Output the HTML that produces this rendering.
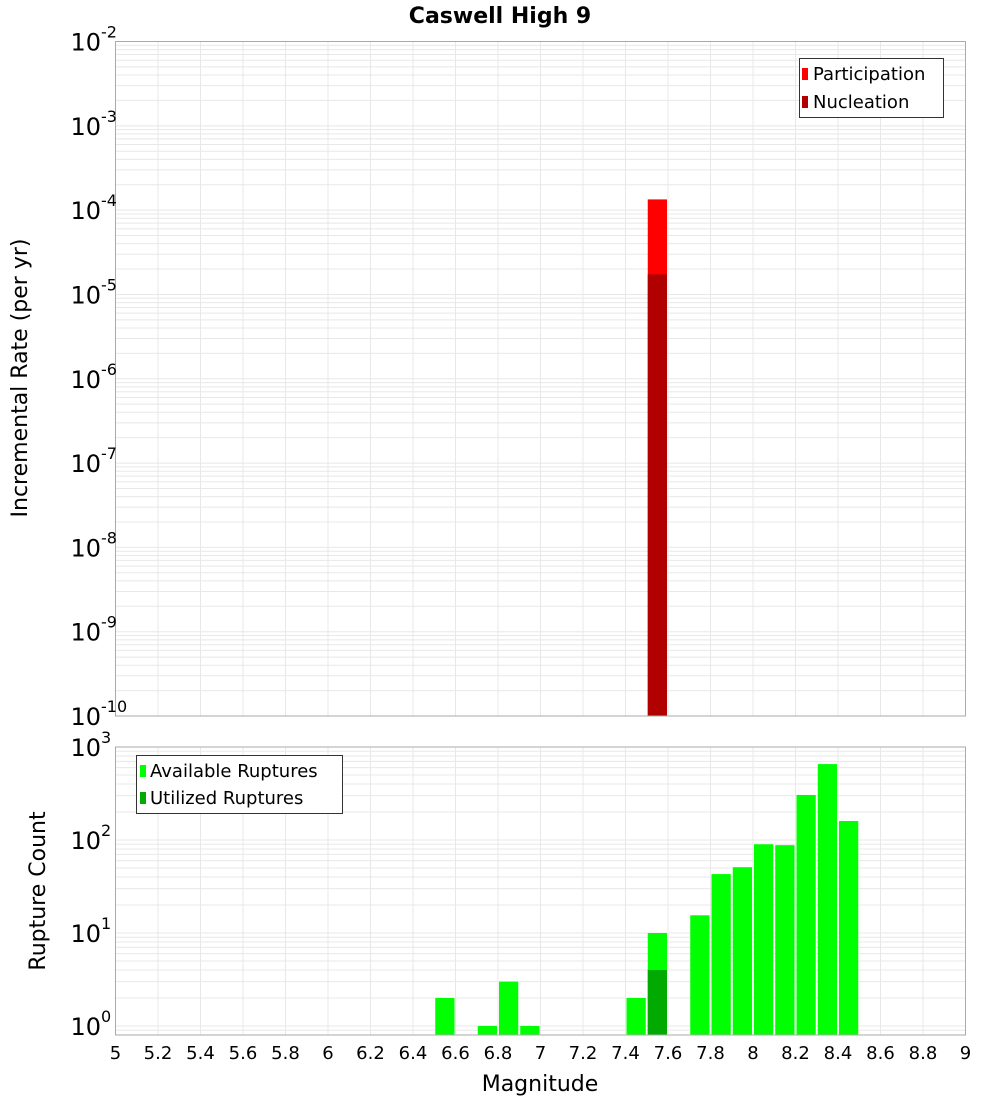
<!DOCTYPE html>
<html><head><meta charset="utf-8"><style>
body{margin:0;background:#fff;}
svg{display:block;font-family:"DejaVu Sans","Liberation Sans",sans-serif;}
</style></head><body>
<svg id="c" width="1000" height="1100" xmlns="http://www.w3.org/2000/svg"></svg>
<script>
const topBinCenters=[7.55];
const participation=[1.34e-4];
const nucleation=[1.73e-5];
const binCenters=[6.55,6.75,6.85,6.95,7.45,7.55,7.75,7.85,7.95,8.05,8.15,8.25,8.35,8.45];
const available=[2,1,3,1,2,10,15.5,43,51,90,88,305,655,160];
const utilizedCenters=[7.55];
const utilized=[4];
const xTicks=["5","5.2","5.4","5.6","5.8","6","6.2","6.4","6.6","6.8","7","7.2","7.4","7.6","7.8","8","8.2","8.4","8.6","8.8","9"];
const topExps=[-2,-3,-4,-5,-6,-7,-8,-9,-10];
const botExps=[3,2,1,0];

const NS="http://www.w3.org/2000/svg";
const svg=document.getElementById('c');
function mk(t,a,p){const e=document.createElementNS(NS,t);for(const k in a)e.setAttribute(k,a[k]);(p||svg).appendChild(e);return e;}
const L=115.5,R=965.5;
const xs=v=>L+(v-5)/4*(R-L);
const T1=41.5,B1=716;
const y1=v=>T1+(-2-Math.log10(v))*(B1-T1)/8;
const T2=747,B2=1035,d2=93;
const y2=v=>T2+(3-Math.log10(v))*d2;

// grids
function grid(top,bot,yf,dmin,dmax){
  for(let d=dmin;d<dmax;d++)for(let m=1;m<10;m++){const y=yf(m*Math.pow(10,d));if(y<top-0.1||y>bot+0.1)continue;
    const g=mk('line',{x1:L,x2:R,y1:y,y2:y,stroke:'#e8e8e8','stroke-width':1});
    
    }
  xTicks.forEach(t=>{const x=xs(+t);const g=mk('line',{x1:x,x2:x,y1:top,y2:bot,stroke:'#e8e8e8','stroke-width':1});
    
    });
}
grid(T1,B1,y1,-10,-1);
grid(T2,B2,y2,-1,4);

const bw=(R-L)/40;
// top bars
topBinCenters.forEach((c,i)=>{
  const x=xs(c)-bw/2+1;
  const r=mk('rect',{x:x,y:y1(participation[i]),width:bw-2,height:B1-y1(participation[i]),fill:'#ff0000'});
  
  
  const n=mk('rect',{x:x,y:y1(nucleation[i]),width:bw-2,height:B1-y1(nucleation[i]),fill:'#b00000'});
  
  
});
// bottom bars
binCenters.forEach((c,i)=>{
  const x=xs(c)-bw/2+1;const y=y2(available[i]);
  const r=mk('rect',{x:x,y:y,width:bw-2,height:B2-y,fill:'#00ff00'});
  
  
});
utilizedCenters.forEach((c,i)=>{
  const x=xs(c)-bw/2+1;const y=y2(utilized[i]);
  const r=mk('rect',{x:x,y:y,width:bw-2,height:B2-y,fill:'#00aa00'});
  
  
});
// frames
mk('rect',{x:L,y:T1,width:R-L,height:B1-T1,fill:'none',stroke:'#aaa','stroke-width':1,});
mk('rect',{x:L,y:T2,width:R-L,height:B2-T2,fill:'none',stroke:'#aaa','stroke-width':1,});

// y labels
function ylab(e,y){
  const t=mk('text',{x:101,y:y+9,'text-anchor':'end','font-size':24,fill:'#000'});
  t.textContent='10';
  
  
  const s=mk('text',{x:101,y:y-4,'font-size':16,fill:'#000'});
  s.textContent=String(e);
  
  
}
topExps.forEach(e=>ylab(e,y1(Math.pow(10,e))));
botExps.forEach(e=>ylab(e,y2(Math.pow(10,e))));
// x ticks
xTicks.forEach(t=>{const tx=mk('text',{x:xs(+t),y:1059,'text-anchor':'middle','font-size':18,fill:'#000'});
  tx.textContent=t;
  
  });
</script>
<svg style="position:absolute;left:0;top:0" width="1000" height="1100" xmlns="http://www.w3.org/2000/svg" font-family="DejaVu Sans, Liberation Sans, sans-serif">
<text x="500" y="23" text-anchor="middle" font-size="22" font-weight="bold">Caswell High 9</text>
<text x="540" y="1091" text-anchor="middle" font-size="22">Magnitude</text>
<text transform="translate(27,378) rotate(-90)" text-anchor="middle" font-size="22">Incremental Rate (per yr)</text>
<text transform="translate(45,891) rotate(-90)" text-anchor="middle" font-size="22">Rupture Count</text>
<g>
<rect x="799.5" y="58.5" width="144" height="59" fill="#fff" stroke="#333"/>
<rect x="802" y="68" width="6" height="12" fill="#ff0000"/>
<text x="813" y="80" font-size="18">Participation</text>
<rect x="802" y="96" width="6" height="12" fill="#b00000"/>
<text x="813" y="108" font-size="18">Nucleation</text>
</g>
<g>
<rect x="136.5" y="755.5" width="206" height="58" fill="#fff" stroke="#333"/>
<rect x="140" y="765" width="6" height="12" fill="#00ff00"/>
<text x="150" y="777" font-size="18">Available Ruptures</text>
<rect x="140" y="792" width="6" height="12" fill="#00aa00"/>
<text x="150" y="804" font-size="18">Utilized Ruptures</text>
</g>
</svg>
</body></html>
